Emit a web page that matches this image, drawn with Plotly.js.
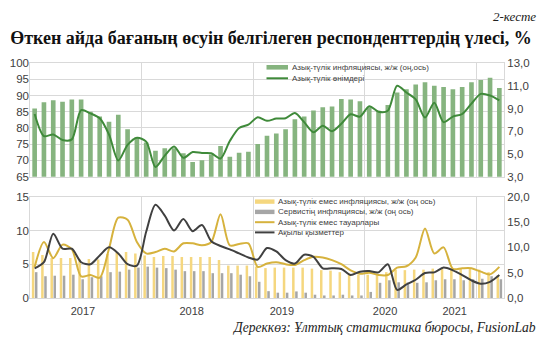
<!DOCTYPE html>
<html><head><meta charset="utf-8">
<script src="https://cdn.plot.ly/plotly-3.0.1.min.js"></script>
<style>html,body{margin:0;padding:0;background:#fff}#chart{width:553px;height:353px}</style>
</head><body><div id="chart"></div>
<script>
const months = ['2017-01','2017-02','2017-03','2017-04','2017-05','2017-06','2017-07','2017-08','2017-09','2017-10','2017-11','2017-12',
'2018-01','2018-02','2018-03','2018-04','2018-05','2018-06','2018-07','2018-08','2018-09','2018-10','2018-11','2018-12',
'2019-01','2019-02','2019-03','2019-04','2019-05','2019-06','2019-07','2019-08','2019-09','2019-10','2019-11','2019-12',
'2020-01','2020-02','2020-03','2020-04','2020-05','2020-06','2020-07','2020-08','2020-09','2020-10','2020-11','2020-12',
'2021-01','2021-02','2021-03'];

// top panel
const foodInflation = [9.0,9.55,9.72,9.6,9.78,9.78,8.72,8.3,7.83,8.45,7.17,6.5,
 6.0,5.28,5.5,5.5,5.06,4.3,4.44,4.95,5.7,4.75,5.1,5.2,
 5.87,6.6,6.8,7.17,8.06,8.29,8.82,9.1,9.18,9.83,9.8,9.63,
 9.1,8.8,9.3,10.4,10.7,11.1,11.3,11.0,10.9,10.7,10.9,11.3,
 11.5,11.7,10.8];
const foodShare = [84.3,77.5,78.0,76.3,76.5,85.5,84.5,83.0,78.0,70.0,74.8,77.0,
 75.8,68.0,71.5,74.3,70.8,72.6,72.3,72.2,70.6,76.0,80.0,81.0,
 83.3,82.2,82.9,83.0,84.6,81.8,78.7,80.7,79.0,81.3,84.2,83.5,
 86.7,85.0,85.3,93.0,90.9,88.8,83.2,87.8,81.8,83.5,84.3,87.5,
 90.5,90.0,88.5];

// bottom panel
const nonFoodInflation = [9.1,8.5,7.9,7.9,7.9,7.6,7.7,7.6,8.7,9.0,9.1,8.8,
 8.4,8.1,8.3,8.3,8.1,8.1,8.1,8.1,7.5,6.4,6.4,6.4,
 6.2,5.9,6.0,6.0,6.0,6.0,5.8,5.5,5.4,5.1,4.8,4.6,
 4.6,4.8,5.1,5.6,5.5,5.6,5.6,5.8,5.8,5.7,5.8,5.8,
 5.6,5.1,4.5];
const servicesInflation = [5.1,4.3,4.4,4.4,4.6,3.7,4.1,4.3,5.1,5.2,5.6,6.0,
 6.2,6.0,5.9,5.6,5.3,5.3,5.3,4.9,4.9,4.9,4.6,4.3,
 3.2,1.35,1.05,1.05,1.3,1.05,0.65,0.5,0.5,0.65,0.5,0.5,
 1.2,3.0,3.5,3.1,3.1,3.0,3.1,3.5,3.7,3.7,3.5,3.7,
 3.8,4.3,3.7];
const nonFoodShare = [4.6,8.3,5.9,7.9,7.2,3.2,3.4,3.0,7.3,11.9,11.6,8.3,
 6.6,6.8,7.3,6.9,8.1,8.1,7.8,8.3,12.4,7.8,8.0,8.1,
 4.6,5.1,5.3,5.0,4.9,5.6,6.1,6.0,5.6,5.0,4.1,3.6,
 3.75,3.4,3.4,4.5,4.7,6.0,10.3,6.6,7.5,4.3,4.4,4.4,
 3.9,3.5,4.6];
const servicesShare = [4.4,5.3,9.5,7.3,7.3,5.3,5.0,6.3,7.5,6.6,5.0,4.8,
 9.8,13.8,12.2,10.0,11.7,9.9,10.8,8.4,7.7,7.2,6.6,6.0,
 5.7,7.4,6.9,5.6,5.1,6.4,6.1,4.4,4.4,4.3,3.4,3.9,
 4.0,3.8,5.0,1.2,2.0,2.7,3.7,3.8,4.5,4.1,3.4,2.6,
 2.1,2.4,3.4];

const yearLabels = ['2017','2018','2019','2020','2021'];
const topLegend = ['Азық-түлік инфляциясы, ж/ж (оң,ось)','Азық-түлік өнімдері'];
const bottomLegend = ['Азық-түлік емес инфляциясы, ж/ж (оң ось)','Сервистің инфляциясы, ж/ж (оң ось)','Азық-түлік емес тауарлары','Ақылы қызметтер'];
const titleText = 'Өткен айда бағаның өсуін белгілеген респонденттердің үлесі, %';
const tableText = '2-кесте';
const sourceText = 'Дереккөз: Ұлттық статистика бюросы, FusionLab';

// layout helpers
const W=553,H=353,ML=30,MR=49,MT=63,MB=55;
const PW=W-ML-MR, PH=H-MT-MB;
const fx = p => (p-ML)/PW;
const fy = p => (H-MB-p)/PH;
const xi = months.map((m,i)=>i);
const yearPos = [5.2,16.9,26.6,37.7,45.2];
const yearGrid = [11.5,23.5,35.5,47.5];

const SANS = 'Liberation Sans, Arial, sans-serif';
const SERIF = 'Liberation Serif, Times New Roman, serif';
const TXT = '#404040';
const GRID = '#d9d9d9';
const C_GREENBAR = '#86b47f', C_GREENLINE = '#3f8a3a';
const C_YBAR = '#f5d77f', C_GBAR = '#a6a6a6', C_YLINE = '#d6b23d', C_DLINE = '#404040';

const traces = [
 {type:'bar', x:xi, y:foodInflation, xaxis:'x', yaxis:'y', width:0.5, marker:{color:C_GREENBAR}, name:topLegend[0]},
 {type:'scatter', mode:'lines', x:xi, y:foodShare, xaxis:'x', yaxis:'y2', line:{color:C_GREENLINE, width:2, shape:'spline', smoothing:0.8}, name:topLegend[1]},
 {type:'bar', x:xi, y:nonFoodInflation, xaxis:'x2', yaxis:'y3', width:0.27, offset:-0.3, marker:{color:C_YBAR}, name:bottomLegend[0]},
 {type:'bar', x:xi, y:servicesInflation, xaxis:'x2', yaxis:'y3', width:0.27, offset:0.03, marker:{color:C_GBAR}, name:bottomLegend[1]},
 {type:'scatter', mode:'lines', x:xi, y:nonFoodShare, xaxis:'x2', yaxis:'y4', line:{color:C_YLINE, width:2, shape:'spline', smoothing:0.8}, name:bottomLegend[2]},
 {type:'scatter', mode:'lines', x:xi, y:servicesShare, xaxis:'x2', yaxis:'y4', line:{color:C_DLINE, width:2, shape:'spline', smoothing:0.8}, name:bottomLegend[3]}
];

const tf = {family:SANS, size:11.5, color:TXT};
const minorGrid = {tickmode:'array', tickvals:yearGrid, showgrid:true, gridcolor:GRID, gridwidth:1, ticks:''};
const xCommon = {range:[-0.5,50.5], showgrid:false, zeroline:false, ticks:'', showline:true, linecolor:GRID, linewidth:1, mirror:true, minor:minorGrid, fixedrange:true};

const shapes = [];
const annotations = [];
// top legend
shapes.push({type:'rect', xref:'paper', yref:'paper', x0:fx(266.5), x1:fx(288), y0:fy(69.6), y1:fy(65), fillcolor:C_GREENBAR, line:{width:0}});
shapes.push({type:'line', xref:'paper', yref:'paper', x0:fx(266.5), x1:fx(288), y0:fy(78.3), y1:fy(78.3), line:{color:C_GREENLINE, width:2}});
[67.3,78.3].forEach((yy,i)=>annotations.push({xref:'paper', yref:'paper', x:fx(290), y:fy(yy), text:topLegend[i], showarrow:false, xanchor:'left', yanchor:'middle', font:{family:SANS, size:8, color:TXT}}));
// bottom legend
const bRows = [201.6,211.9,222.2,232.4];
shapes.push({type:'rect', xref:'paper', yref:'paper', x0:fx(255), x1:fx(274.5), y0:fy(bRows[0]+2.2), y1:fy(bRows[0]-2.2), fillcolor:C_YBAR, line:{width:0}});
shapes.push({type:'rect', xref:'paper', yref:'paper', x0:fx(255), x1:fx(274.5), y0:fy(bRows[1]+2.2), y1:fy(bRows[1]-2.2), fillcolor:C_GBAR, line:{width:0}});
shapes.push({type:'line', xref:'paper', yref:'paper', x0:fx(255), x1:fx(274.5), y0:fy(bRows[2]), y1:fy(bRows[2]), line:{color:C_YLINE, width:2}});
shapes.push({type:'line', xref:'paper', yref:'paper', x0:fx(255), x1:fx(274.5), y0:fy(bRows[3]), y1:fy(bRows[3]), line:{color:C_DLINE, width:2}});
bRows.forEach((yy,i)=>annotations.push({xref:'paper', yref:'paper', x:fx(275.5), y:fy(yy), text:bottomLegend[i], showarrow:false, xanchor:'left', yanchor:'middle', font:{family:SANS, size:8, color:TXT}}));
// table number and source
annotations.push({xref:'paper', yref:'paper', x:fx(538), y:fy(17), text:'<i>'+tableText+'</i>', showarrow:false, xanchor:'right', yanchor:'middle', font:{family:SERIF, size:13, color:'#222'}});
annotations.push({xref:'paper', yref:'paper', x:fx(538), y:fy(327), text:'<i>'+sourceText+'</i>', showarrow:false, xanchor:'right', yanchor:'middle', font:{family:SERIF, size:13.6, color:'#222'}});

const layout = {
 width:W, height:H, margin:{l:ML, r:MR, t:MT, b:MB, pad:0},
 paper_bgcolor:'#fff', plot_bgcolor:'rgba(0,0,0,0)',
 showlegend:false, barmode:'overlay', separators:', ',
 title:{text:'<b>'+titleText+'</b>', x:271/W, xref:'container', xanchor:'center', y:1-38/H, yref:'container', yanchor:'middle', font:{family:SERIF, size:18, color:'#111'}},
 xaxis: Object.assign({}, xCommon, {anchor:'y', showticklabels:false}),
 yaxis: {domain:[fy(176.7),1], anchor:'x', side:'right', range:[3,13], tick0:3, dtick:2, tickformat:'.1f', showgrid:false, zeroline:false, ticks:'', tickfont:tf, showline:true, linecolor:GRID, mirror:true},
 yaxis2: {overlaying:'y', anchor:'x', side:'left', range:[65,100], tick0:65, dtick:5, showgrid:true, gridcolor:GRID, zeroline:false, ticks:'', tickfont:tf, showline:false},
 xaxis2: Object.assign({}, xCommon, {anchor:'y3', tickmode:'array', tickvals:yearPos, ticktext:yearLabels, tickfont:{family:SANS, size:11, color:TXT}, ticklabelstandoff:3}),
 yaxis3: {domain:[0,fy(196.7)], anchor:'x2', side:'right', range:[0,20], dtick:5, tickformat:'.1f', showgrid:false, zeroline:false, ticks:'', tickfont:tf, showline:true, linecolor:GRID, mirror:true},
 yaxis4: {overlaying:'y3', anchor:'x2', side:'left', range:[0,15], dtick:5, showgrid:true, gridcolor:GRID, zeroline:false, ticks:'', tickfont:tf, showline:false},
 shapes:shapes, annotations:annotations
};
Plotly.newPlot('chart', traces, layout, {staticPlot:true, displayModeBar:false});
</script></body></html>
